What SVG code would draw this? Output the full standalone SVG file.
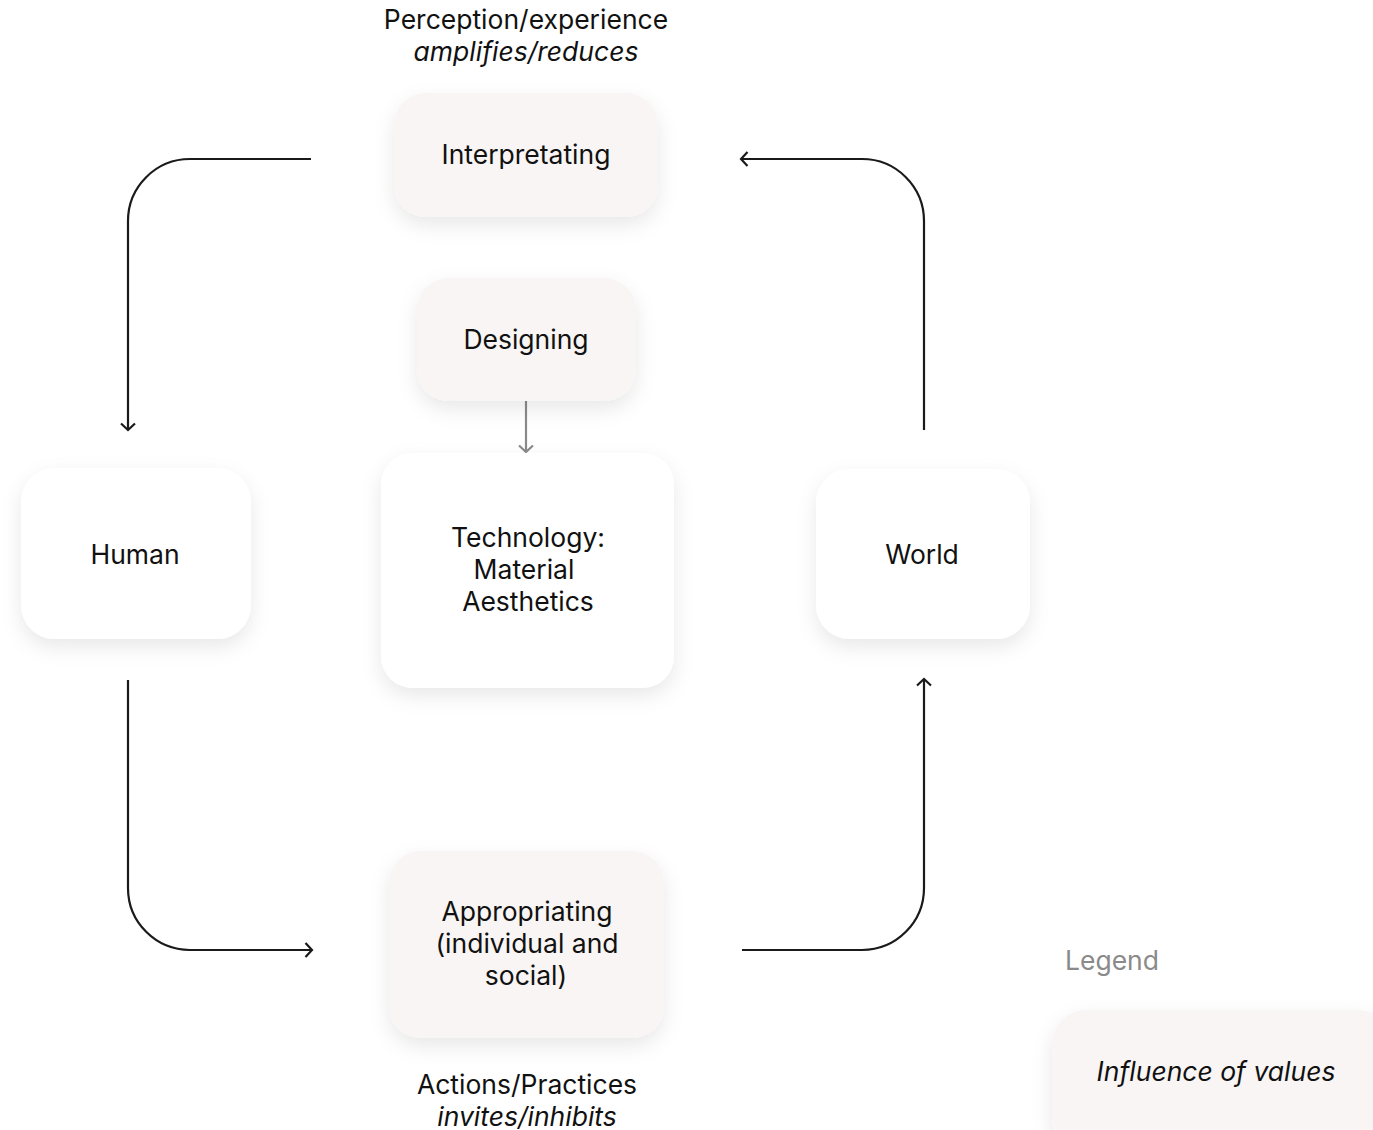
<svg xmlns="http://www.w3.org/2000/svg" width="1373" height="1130" viewBox="0 0 1373 1130">
<style>
.t{font-family:Inter,"Noto Sans","Liberation Sans",sans-serif;font-size:26.5px;fill:#111;text-anchor:middle}
.i{font-style:italic}
.tint{fill:#f8f5f4}
.white{fill:#ffffff}
.c{fill:none;stroke:#1a1a1a;stroke-width:2.2}
.g{fill:none;stroke:#8a8a8a;stroke-width:2.2}
</style>
<defs>
<filter id="sh" x="-30%" y="-30%" width="160%" height="170%">
<feDropShadow dx="0" dy="8" stdDeviation="10" flood-color="#000" flood-opacity="0.09"/>
</filter>
<marker id="ah" markerWidth="18" markerHeight="18" refX="9" refY="9" orient="auto" markerUnits="userSpaceOnUse">
<path d="M2.5,2 L9,9 L2.5,16" fill="none" stroke="#1a1a1a" stroke-width="2.2"/>
</marker>
<marker id="ahg" markerWidth="18" markerHeight="18" refX="9" refY="9" orient="auto" markerUnits="userSpaceOnUse">
<path d="M2.5,2 L9,9 L2.5,16" fill="none" stroke="#8a8a8a" stroke-width="2.2"/>
</marker>
</defs>
<rect width="1373" height="1130" fill="#fff"/>
<g id="connectors">
<path class="c" d="M311,159 H190 A62,62 0 0 0 128,221 V430" marker-end="url(#ah)"/>
<path class="c" d="M924,430 V221 A62,62 0 0 0 862,159 H741" marker-end="url(#ah)"/>
<path class="c" d="M128,680 V888 A62,62 0 0 0 190,950 H312" marker-end="url(#ah)"/>
<path class="c" d="M742,950 H862 A62,62 0 0 0 924,888 V679" marker-end="url(#ah)"/>
<path class="g" d="M526,401 V452" marker-end="url(#ahg)"/>
</g>
<g id="label-top">
<text class="t" x="526" y="29">Perception/experience</text>
<text class="t i" x="526" y="61">amplifies/reduces</text>
</g>
<g id="interpretating">
<rect class="tint" x="394" y="93" width="264" height="124" rx="32" filter="url(#sh)"/>
<text class="t" x="526" y="164">Interpretating</text>
</g>
<g id="designing">
<rect class="tint" x="417" y="278" width="219" height="123" rx="32" filter="url(#sh)"/>
<text class="t" x="526" y="349">Designing</text>
</g>
<g id="technology">
<rect class="white" x="381" y="453" width="293" height="235" rx="32" filter="url(#sh)"/>
<text class="t" x="528" y="547">Technology:</text>
<text class="t" x="524" y="579">Material</text>
<text class="t" x="528" y="611">Aesthetics</text>
</g>
<g id="human">
<rect class="white" x="21" y="468" width="230" height="171" rx="34" filter="url(#sh)"/>
<text class="t" x="135" y="564">Human</text>
</g>
<g id="world">
<rect class="white" x="816" y="469" width="214" height="170" rx="34" filter="url(#sh)"/>
<text class="t" x="922" y="564">World</text>
</g>
<g id="appropriating">
<rect class="tint" x="389" y="851" width="275" height="187" rx="32" filter="url(#sh)"/>
<text class="t" x="527" y="921">Appropriating</text>
<text class="t" x="527" y="953">(individual and</text>
<text class="t" x="526" y="985">social)</text>
</g>
<g id="label-bottom">
<text class="t" x="527" y="1094">Actions/Practices</text>
<text class="t i" x="527" y="1126">invites/inhibits</text>
</g>
<g id="legend">
<text class="t" x="1112" y="970" style="fill:#8a8a8a">Legend</text>
<rect class="tint" x="1052" y="1010" width="340" height="140" rx="34" filter="url(#sh)"/>
<text class="t i" x="1216" y="1081">Influence of values</text>
</g>
</svg>
